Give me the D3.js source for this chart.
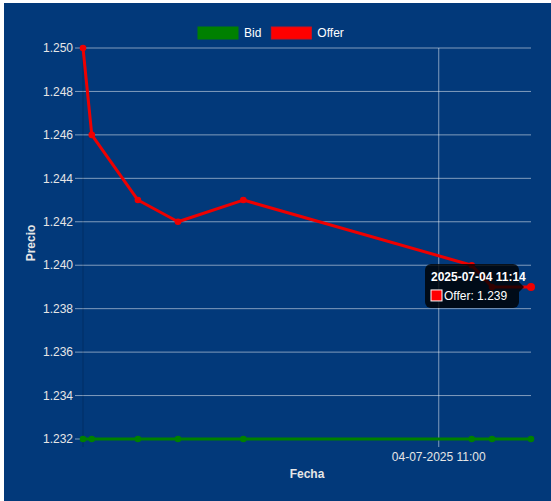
<!DOCTYPE html>
<html>
<head>
<meta charset="utf-8">
<script src="https://cdn.jsdelivr.net/npm/d3@7"></script>
<style>
  body { margin: 0; background: #fff; }
  #wrap { position: absolute; left: 4px; top: 3px; width: 547px; height: 498px; background: #02397a; }
  text { font-family: "Liberation Sans", Arial, sans-serif; }
</style>
</head>
<body>
<div id="wrap"><svg id="chart" width="547" height="498"></svg></div>
<script>
// data
const times = ["2025-07-04 10:06:00", "2025-07-04 10:07:20", "2025-07-04 10:14:20", "2025-07-04 10:20:25",
	"2025-07-04 10:30:20", "2025-07-04 11:05:00", "2025-07-04 11:08:05", "2025-07-04 11:14:00"];
const bidValues = [1.232, 1.232, 1.232, 1.232, 1.232, 1.232, 1.232, 1.232];
const offerValues = [1.250, 1.246, 1.243, 1.242, 1.243, 1.240, 1.239, 1.239];
const yTicks = [1.232, 1.234, 1.236, 1.238, 1.240, 1.242, 1.244, 1.246, 1.248, 1.250];
const xTicks = ["2025-07-04 11:00:00"];
const hoverIndex = 7;

const parse = d3.timeParse("%Y-%m-%d %H:%M:%S");
const dates = times.map(parse);

const svg = d3.select("#chart");
// offsets inside the blue box (box sits at 4,3)
const plotL = 79, plotR = 527, plotT = 45, plotB = 436;

const x = d3.scaleTime()
	.domain(d3.extent(dates))
	.range([plotL, plotR]);
const y = d3.scaleLinear()
	.domain([1.232, 1.250])
	.range([plotB, plotT]);

const grid = "rgba(255,255,255,0.5)";

// horizontal grid + y ticks
svg.append("g")
	.selectAll("line")
	.data(yTicks)
	.enter().append("line")
	.attr("x1", plotL - 8).attr("x2", plotR)
	.attr("y1", d => y(d)).attr("y2", d => y(d))
	.attr("stroke", grid).attr("stroke-width", 1);

svg.append("g")
	.selectAll("text")
	.data(yTicks)
	.enter().append("text")
	.attr("x", plotL - 10)
	.attr("y", d => y(d))
	.attr("dy", "0.35em")
	.attr("text-anchor", "end")
	.attr("fill", "#e6e6e6")
	.style("font-size", "12px")
	.text(d => d3.format(".3f")(d));

// vertical grid at x ticks
const xt = xTicks.map(parse);
svg.append("g")
	.selectAll("line")
	.data(xt)
	.enter().append("line")
	.attr("x1", d => x(d)).attr("x2", d => x(d))
	.attr("y1", plotT).attr("y2", plotB + 8)
	.attr("stroke", grid).attr("stroke-width", 1);

svg.append("g")
	.selectAll("text")
	.data(xt)
	.enter().append("text")
	.attr("x", d => x(d))
	.attr("y", plotB + 22)
	.attr("text-anchor", "middle")
	.attr("fill", "#e6e6e6")
	.style("font-size", "12px")
	.text(d => d3.timeFormat("%d-%m-%Y %H:%M")(d));

// left axis border
svg.append("line")
	.attr("x1", plotL).attr("x2", plotL)
	.attr("y1", plotT).attr("y2", plotB + 8)
	.attr("stroke", "rgba(0,0,0,0.18)");

// axis titles
svg.append("text")
	.attr("x", (plotL + plotR) / 2)
	.attr("y", 475)
	.attr("text-anchor", "middle")
	.attr("fill", "#e6e6e6")
	.style("font-size", "12px")
	.style("font-weight", "bold")
	.text("Fecha");

svg.append("text")
	.attr("transform", "translate(31,240) rotate(-90)")
	.attr("text-anchor", "middle")
	.attr("fill", "#e6e6e6")
	.style("font-size", "12px")
	.style("font-weight", "bold")
	.text("Precio");

// series
const series = [
	{ name: "Bid", values: bidValues, color: "#008000" },
	{ name: "Offer", values: offerValues, color: "#ee0000" }
];

const line = d3.line()
	.x((d, i) => x(dates[i]))
	.y(d => y(d));

series.forEach(s => {
	svg.append("path")
		.datum(s.values)
		.attr("d", line)
		.attr("fill", "none")
		.attr("stroke", s.color)
		.attr("stroke-width", 3)
		.attr("stroke-linejoin", "round");
	svg.append("g")
		.selectAll("circle")
		.data(s.values)
		.enter().append("circle")
		.attr("cx", (d, i) => x(dates[i]))
		.attr("cy", d => y(d))
		.attr("r", (d, i) => (s.name == "Offer" && i == hoverIndex) ? 4 : 3.3)
		.attr("fill", s.color);
});

// legend
const legend = svg.append("g").attr("transform", "translate(194,24)");
let lx = 0;
series.forEach(s => {
	legend.append("rect")
		.attr("x", lx).attr("y", 0)
		.attr("width", 40).attr("height", 12)
		.attr("fill", s.name == "Offer" ? "#ff0000" : s.color)
		.attr("stroke", s.name == "Offer" ? "#d0101c" : s.color);
	const t = legend.append("text")
		.attr("x", lx + 46).attr("y", 10)
		.attr("fill", "#fff")
		.style("font-size", "12px")
		.text(s.name);
	lx += 46 + t.node().getComputedTextLength() + 10;
});

// tooltip for hovered point
const px = x(dates[hoverIndex]), py = y(offerValues[hoverIndex]);
const tw = 94, th = 44;
const tx = px - 12 - tw, ty = py - th / 2 - 1;
const tip = svg.append("g");
tip.append("rect")
	.attr("x", tx).attr("y", ty)
	.attr("width", tw).attr("height", th)
	.attr("rx", 6)
	.attr("fill", "rgba(0,0,0,0.8)");
tip.append("path")
	.attr("d", `M${tx + tw},${py - 5}L${tx + tw + 5},${py}L${tx + tw},${py + 5}Z`)
	.attr("fill", "rgba(0,0,0,0.8)");
tip.append("text")
	.attr("x", tx + 6).attr("y", ty + 17)
	.attr("fill", "#fff")
	.style("font-size", "12px")
	.style("font-weight", "bold")
	.text(d3.timeFormat("%Y-%m-%d %H:%M")(dates[hoverIndex]));
tip.append("rect")
	.attr("x", tx + 6).attr("y", ty + 26)
	.attr("width", 11).attr("height", 11)
	.attr("fill", "#ff0000")
	.attr("stroke", "#fff").attr("stroke-width", 1);
tip.append("text")
	.attr("x", tx + 19).attr("y", ty + 36)
	.attr("fill", "#fff")
	.style("font-size", "12px")
	.text("Offer: " + d3.format(".3f")(offerValues[hoverIndex]));
</script>
</body>
</html>
